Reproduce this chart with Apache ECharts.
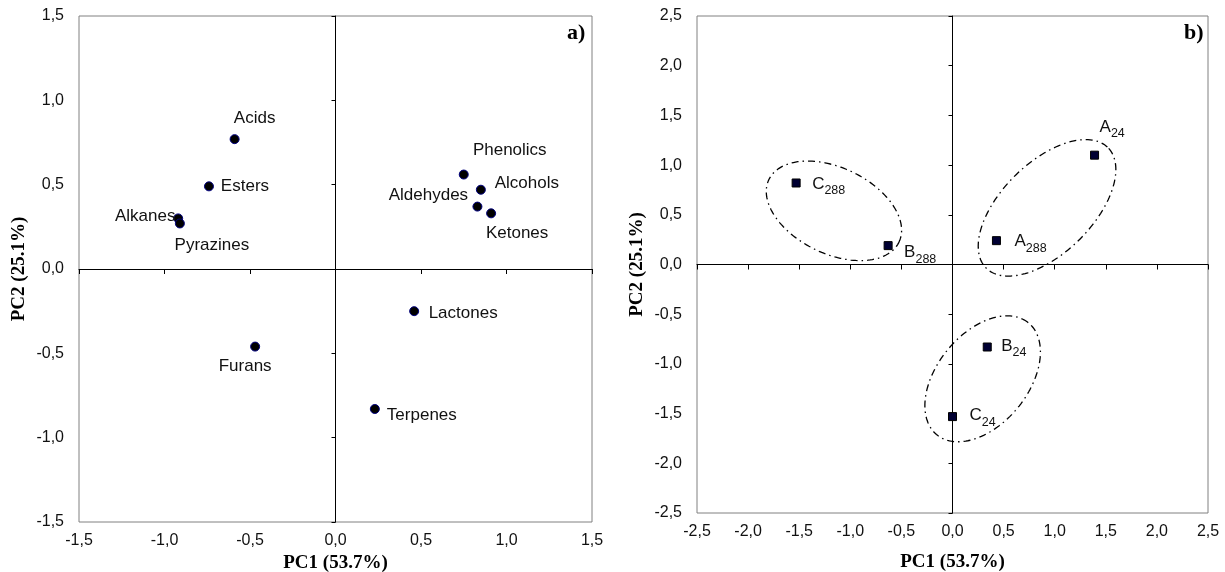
<!DOCTYPE html>
<html>
<head>
<meta charset="utf-8">
<script src="https://cdn.jsdelivr.net/npm/echarts@6/dist/echarts.min.js"></script>
<style>html,body{margin:0;padding:0;background:#fff}#chart{width:1225px;height:572px}</style>
</head>
<body>
<div id="chart"></div>
<script>
// ---- Panel a) loadings ----
const compoundNames = ['Acids','Esters','Alkanes','Pyrazines','Phenolics','Alcohols','Aldehydes','Ketones','Furans','Lactones','Terpenes'];
const pc1Loadings = [-0.59,-0.74,-0.92,-0.91,0.75,0.85,0.83,0.91,-0.47,0.46,0.23];
const pc2Loadings = [0.77,0.49,0.30,0.27,0.56,0.47,0.37,0.33,-0.46,-0.25,-0.83];

// ---- Panel b) scores ----
const sampleNames = ['C288','B288','A24','A288','B24','C24'];
const pc1Scores = [-1.53,-0.63,1.39,0.43,0.34,0.00];
const pc2Scores = [0.82,0.19,1.10,0.24,-0.83,-1.53];

// ---- grouping ellipses (centre, semi-axes, angle in degrees) ----
const ellipseCenterX = [-1.16, 0.925, 0.295];
const ellipseCenterY = [0.54, 0.57, -1.15];
const ellipseSemiMajor = [0.71, 0.85, 0.72];
const ellipseSemiMinor = [0.43, 0.45, 0.45];
const ellipseAngle = [-27, 46, 52.5];

// ---- axis ranges / labels ----
const axisTitleX = 'PC1 (53.7%)';
const axisTitleY = 'PC2 (25.1%)';
const rangeA = [-1.5, 1.5];
const rangeB = [-2.5, 2.5];
const tickStep = 0.5;
const panelTags = ['a)', 'b)'];

// label placement (style only)
const loadingLabelOffsets = [[20,-21],[36,0],[-33,-2],[32,22],[46,-24],[46,-6],[-49,-11],[26,20],[-10,20],[49,2],[47,6]];
const scoreLabelOffsets = [[16,1],[16,7],[5,-28],[18,1],[14,-1],[17,-1]];

const fmt = v => v.toFixed(1).replace('.', ',');
const sansFont = '"Liberation Sans", Arial, sans-serif';
const serifFont = '"Liberation Serif", "Times New Roman", serif';
const titleStyle = { fontFamily: serifFont, fontWeight: 'bold', fontSize: 19, color: '#000' };

function labelAxisX(grid, range, nameGap) {
  return {
    type: 'value', gridIndex: grid, min: range[0], max: range[1], interval: tickStep,
    position: 'bottom',
    axisLine: { show: false, onZero: false },
    axisTick: { show: false },
    splitLine: { show: false },
    axisLabel: { formatter: fmt, color: '#111', fontSize: 16, fontFamily: sansFont, margin: 11 },
    name: axisTitleX, nameLocation: 'middle', nameGap: nameGap,
    nameTextStyle: titleStyle
  };
}
function zeroAxisX(grid, range) {
  return {
    type: 'value', gridIndex: grid, min: range[0], max: range[1], interval: tickStep,
    position: 'bottom',
    axisLine: { show: true, onZero: true, lineStyle: { color: '#000', width: 1 } },
    axisTick: { show: true, length: 5, lineStyle: { color: '#000' } },
    splitLine: { show: false },
    axisLabel: { show: false }
  };
}
function labelAxisY(grid, range, nameGap) {
  return {
    type: 'value', gridIndex: grid, min: range[0], max: range[1], interval: tickStep,
    position: 'left',
    axisLine: { show: false, onZero: false },
    axisTick: { show: false },
    splitLine: { show: false },
    axisLabel: { formatter: fmt, color: '#111', fontSize: 16, fontFamily: sansFont, margin: 15 },
    name: axisTitleY, nameLocation: 'middle', nameGap: nameGap,
    nameTextStyle: titleStyle
  };
}
function zeroAxisY(grid, range) {
  return {
    type: 'value', gridIndex: grid, min: range[0], max: range[1], interval: tickStep,
    position: 'left',
    axisLine: { show: true, onZero: true, lineStyle: { color: '#000', width: 1 } },
    axisTick: { show: true, length: 4, lineStyle: { color: '#000' } },
    splitLine: { show: false },
    axisLabel: { show: false }
  };
}

const loadingData = compoundNames.map((n, i) => ({
  name: n, value: [pc1Loadings[i], pc2Loadings[i]],
  label: { offset: loadingLabelOffsets[i] }
}));
const scoreData = sampleNames.map((n, i) => ({
  name: n, value: [pc1Scores[i], pc2Scores[i]],
  label: { offset: scoreLabelOffsets[i] }
}));
const ellipseData = ellipseCenterX.map((cx, i) => [cx, ellipseCenterY[i], ellipseSemiMajor[i], ellipseSemiMinor[i], ellipseAngle[i]]);

const chart = echarts.init(document.getElementById('chart'), null, { renderer: 'canvas' });
chart.setOption({
  backgroundColor: '#fff',
  animation: false,
  title: [
    { text: panelTags[0], left: 562, top: 17, textStyle: { fontFamily: serifFont, fontWeight: 'bold', fontSize: 22, color: '#000' } },
    { text: panelTags[1], left: 1179, top: 17, textStyle: { fontFamily: serifFont, fontWeight: 'bold', fontSize: 22, color: '#000' } }
  ],
  grid: [
    { left: 79, top: 16, width: 513, height: 506, outerBoundsMode: 'none', containLabel: false,
      show: true, borderColor: '#808080', borderWidth: 1, backgroundColor: 'transparent' },
    { left: 697, top: 16, width: 511, height: 497, outerBoundsMode: 'none', containLabel: false,
      show: true, borderColor: '#808080', borderWidth: 1, backgroundColor: 'transparent' }
  ],
  xAxis: [ labelAxisX(0, rangeA, 31), zeroAxisX(0, rangeA), labelAxisX(1, rangeB, 40), zeroAxisX(1, rangeB) ],
  yAxis: [ labelAxisY(0, rangeA, 50), zeroAxisY(0, rangeA), labelAxisY(1, rangeB, 50), zeroAxisY(1, rangeB) ],
  series: [
    {
      type: 'scatter', xAxisIndex: 0, yAxisIndex: 0,
      symbol: 'circle', symbolSize: 9,
      itemStyle: { color: '#000', borderColor: '#000080', borderWidth: 1, opacity: 1 },
      label: { show: true, position: 'inside', align: 'center', verticalAlign: 'middle',
               formatter: p => p.name, color: '#111', fontSize: 17, fontFamily: sansFont },
      data: loadingData
    },
    {
      type: 'custom', xAxisIndex: 2, yAxisIndex: 2,
      encode: { x: 0, y: 1 },
      renderItem: function (params, api) {
        const cx = api.value(0), cy = api.value(1), a = api.value(2), b = api.value(3);
        const t = api.value(4) * Math.PI / 180;
        const pts = [];
        for (let k = 0; k <= 160; k++) {
          const u = k / 160 * 2 * Math.PI;
          const x = cx + a * Math.cos(u) * Math.cos(t) - b * Math.sin(u) * Math.sin(t);
          const y = cy + a * Math.cos(u) * Math.sin(t) + b * Math.sin(u) * Math.cos(t);
          pts.push(api.coord([x, y]));
        }
        return { type: 'polyline', shape: { points: pts },
                 style: { stroke: '#000', fill: null, lineWidth: 1.3, lineDash: [7, 4, 1.5, 4] } };
      },
      data: ellipseData
    },
    {
      type: 'scatter', xAxisIndex: 2, yAxisIndex: 2,
      symbol: 'rect', symbolSize: 8,
      itemStyle: { color: '#000033', borderColor: '#000', borderWidth: 1, opacity: 1 },
      label: { show: true, position: 'inside', align: 'left', verticalAlign: 'middle',
               formatter: p => '{m|' + p.name.charAt(0) + '}{s|' + p.name.slice(1) + '}',
               rich: {
                 m: { fontSize: 17, lineHeight: 17, fontFamily: sansFont, color: '#111' },
                 s: { fontSize: 12.5, lineHeight: 17, fontFamily: sansFont, color: '#111', padding: [13, 0, 0, 0] }
               } },
      data: scoreData
    }
  ]
});
</script>
</body>
</html>
